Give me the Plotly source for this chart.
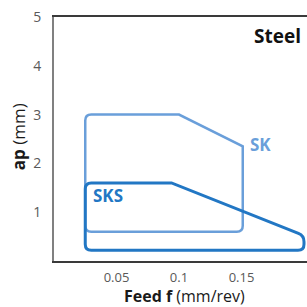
import plotly.graph_objects as go

# ---- data ----
feed_ticks = [0.05, 0.1, 0.15]
feed_tick_text = ["0.05", "0.1", "0.15"]
ap_ticks = [1, 2, 3, 4, 5]
ap_tick_text = ["1", "2", "3", "4", "5"]

sk_feed = [0.025, 0.025, 0.100, 0.151, 0.151]
sk_ap = [0.60, 3.00, 3.00, 2.35, 0.60]
sk_round = [True, True, False, False, True]

sks_feed = [0.025, 0.025, 0.094, 0.200, 0.200]
sks_ap = [0.22, 1.60, 1.60, 0.52, 0.22]
sks_round = [True, True, False, True, True]

labels = ["SK", "SKS"]
label_feed = [0.1655, 0.0435]
label_ap = [2.38, 1.34]

# ---- layout constants (screen pixels) ----
SCREEN = 307
PL, PR, PT, PB = 54, 307, 17, 260.7      # plot box on screen
W = H = SCREEN
ML, MT = PL, PT
MR = SCREEN - PR
MB = SCREEN - PB
x_range = [0, 0.2024]
y_range = [0, 5]
pw, ph = PR - PL, PB - PT
sx = pw / (x_range[1] - x_range[0])
sy = ph / (y_range[1] - y_range[0])

SK_COLOR = "#6A9FDA"
SKS_COLOR = "#2277C4"


def px_to_paper(x, y):
    return (x - PL) / pw, (PB - y) / ph


def rounded_path(xs, ys, flags, r_px=6):
    px = [(x - x_range[0]) * sx for x in xs]
    py = [(y - y_range[0]) * sy for y in ys]
    n = len(px)
    segs = []
    for i in range(n):
        x0, y0 = px[i], py[i]
        if flags[i]:
            xp, yp = px[i - 1], py[i - 1]
            xn, yn = px[(i + 1) % n], py[(i + 1) % n]
            dp = ((xp - x0) ** 2 + (yp - y0) ** 2) ** 0.5
            dn = ((xn - x0) ** 2 + (yn - y0) ** 2) ** 0.5
            a = (x0 + (xp - x0) * r_px / dp, y0 + (yp - y0) * r_px / dp)
            b = (x0 + (xn - x0) * r_px / dn, y0 + (yn - y0) * r_px / dn)
            segs.append(("L", a))
            segs.append(("Q", (x0, y0), b))
        else:
            segs.append(("L", (x0, y0)))

    def d(p):
        return f"{p[0] / sx + x_range[0]:.6f},{p[1] / sy + y_range[0]:.6f}"

    out = []
    for k, s in enumerate(segs):
        if s[0] == "L":
            out.append(("M " if k == 0 else "L ") + d(s[1]))
        else:
            out.append("Q " + d(s[1]) + " " + d(s[2]))
    return " ".join(out) + " Z"


fig = go.Figure()
fig.add_trace(go.Scatter(x=[x_range[0]], y=[y_range[0]], mode="markers",
                         marker=dict(opacity=0), hoverinfo="skip", showlegend=False))

fig.add_shape(type="path", xref="x", yref="y",
              path=rounded_path(sk_feed, sk_ap, sk_round),
              line=dict(color=SK_COLOR, width=2.5))
fig.add_shape(type="path", xref="x", yref="y",
              path=rounded_path(sks_feed, sks_ap, sks_round),
              line=dict(color=SKS_COLOR, width=3))

label_colors = [SK_COLOR, SKS_COLOR]
for t, fx, fy, c in zip(labels, label_feed, label_ap, label_colors):
    fig.add_annotation(x=fx, y=fy, xref="x", yref="y", text=f"<b>{t}</b>",
                       showarrow=False, font=dict(family="Open Sans", size=17, color=c))

sx_, sy_ = px_to_paper(303, 36)
fig.add_annotation(x=sx_, y=sy_, xref="paper", yref="paper",
                   xanchor="right", yanchor="middle", text="<b>Steel</b>", showarrow=False,
                   font=dict(family="Open Sans", size=19, color="#111111"))

tx, ty = px_to_paper(184, 296)
fig.add_annotation(x=tx, y=ty, xref="paper", yref="paper",
                   xanchor="center", yanchor="middle", showarrow=False,
                   text="<b>Feed f</b> (mm/rev)",
                   font=dict(family="Open Sans", size=16, color="#1a1a1a"))
tx, ty = px_to_paper(18, 137)
fig.add_annotation(x=tx, y=ty, xref="paper", yref="paper",
                   xanchor="center", yanchor="middle", showarrow=False, textangle=-90,
                   text="<b>ap</b> (mm)",
                   font=dict(family="Open Sans", size=17, color="#1a1a1a"))

fig.update_layout(
    width=W, height=H,
    margin=dict(l=ML, r=MR, t=MT, b=MB, pad=0),
    paper_bgcolor="white", plot_bgcolor="white",
    showlegend=False,
    font=dict(family="Open Sans", color="#595959"),
    xaxis=dict(range=x_range, tickvals=feed_ticks, ticktext=feed_tick_text,
               showgrid=False, zeroline=False, showline=True, linecolor="#3a3a3a",
               linewidth=1.5, mirror=True, ticks="outside", ticklen=4,
               tickcolor="rgba(0,0,0,0)", tickfont=dict(size=13, color="#595959"),
               ticklabeloverflow="allow"),
    yaxis=dict(range=y_range, tickvals=ap_ticks, ticktext=ap_tick_text,
               showgrid=False, zeroline=False, showline=True, linecolor="#808080",
               linewidth=2, ticks="outside", ticklen=8, tickcolor="rgba(0,0,0,0)",
               tickfont=dict(size=14, color="#595959"), ticklabeloverflow="allow"),
)

fig.write_html(
    "out.html",
    config=dict(displayModeBar=False),
    post_script="document.body.style.margin='0';document.body.style.overflow='hidden';",
)
